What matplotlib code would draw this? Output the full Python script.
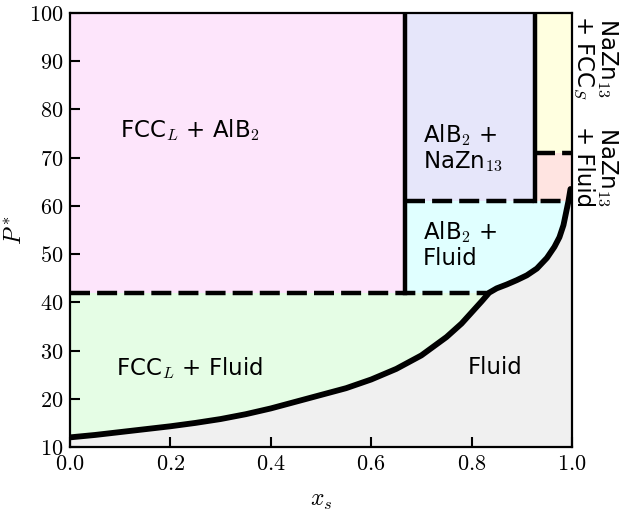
import numpy as np
import matplotlib
matplotlib.use("Agg")
import matplotlib.pyplot as plt
from matplotlib.ticker import FuncFormatter

plt.rcParams['mathtext.fontset'] = 'cm'
plt.rcParams['font.family'] = ['DejaVu Sans']

# coexistence curve (fluid boundary)
xs_curve = [0.0, 0.05, 0.1, 0.15, 0.2, 0.25, 0.3, 0.35, 0.4, 0.45, 0.5, 0.55,
            0.6, 0.65, 0.7, 0.75, 0.78, 0.8, 0.82, 0.835, 0.85, 0.87, 0.89,
            0.91, 0.93, 0.95, 0.965, 0.975, 0.983, 0.988, 0.993, 0.997]
p_curve = [12.0, 12.5, 13.1, 13.7, 14.3, 15.0, 15.8, 16.8, 18.0, 19.4, 20.8, 22.2,
           24.0, 26.2, 29.0, 32.8, 35.6, 37.9, 40.2, 42.0, 42.9, 43.7, 44.6,
           45.6, 47.0, 49.2, 51.5, 53.5, 56.0, 58.5, 61.0, 63.5]

# phase boundaries
p_fcc_alb2 = 42.0
p_alb2_nazn = 61.0
p_nazn_fcc = 71.0
x_alb2 = 0.667
x_nazn = 0.927

xs_curve = np.array(xs_curve)
p_curve = np.array(p_curve)

fig = plt.figure(figsize=(6.22, 5.15), dpi=100)
ax = fig.add_axes([0.1125, 0.132, 0.8071, 0.8428])
ax.set_facecolor('#f0f0f0')

x_meet = np.interp(p_fcc_alb2, p_curve, xs_curve)

# coloured regions
ax.fill_between([0, x_meet], 10, p_fcc_alb2, color='#e5fde5', lw=0)
ax.fill_between([0, x_alb2], p_fcc_alb2, 100, color='#fde5fb', lw=0)
ax.fill_between([x_alb2, x_nazn], p_alb2_nazn, 100, color='#e6e6fa', lw=0)
ax.fill_between([x_alb2, 1], p_fcc_alb2, p_alb2_nazn, color='#e0ffff', lw=0)
ax.fill_between([x_nazn, 1], p_alb2_nazn, p_nazn_fcc, color='#ffe4e1', lw=0)
ax.fill_between([x_nazn, 1], p_nazn_fcc, 100, color='#ffffe0', lw=0)
ax.fill_between(xs_curve, 10, p_curve, color='#f0f0f0', lw=0)

# boundaries
lw = 3.2
dash = (4.5, 1.6)
ax.plot([0, x_meet], [p_fcc_alb2] * 2, color='k', lw=lw, dashes=dash)
ax.plot([x_alb2, np.interp(p_alb2_nazn, p_curve, xs_curve)], [p_alb2_nazn] * 2,
        color='k', lw=lw, dashes=dash)
ax.plot([x_nazn, 1], [p_nazn_fcc] * 2, color='k', lw=lw, dashes=dash)
ax.plot([x_alb2, x_alb2], [p_fcc_alb2, 100], color='k', lw=lw)
ax.plot([x_nazn, x_nazn], [p_alb2_nazn, 100], color='k', lw=lw)
ax.plot(xs_curve, p_curve, color='k', lw=4.2, solid_capstyle='round',
        solid_joinstyle='round')

# labels
fs = 16.5
ax.text(0.239, 75.8, r'FCC$_L$ + AlB$_2$', fontsize=fs, ha='center', va='center')
ax.text(0.703, 72, 'AlB$_2$ +\nNaZn$_{13}$', fontsize=fs, ha='left', va='center',
        linespacing=1.1)
ax.text(0.703, 52, 'AlB$_2$ +\nFluid', fontsize=fs, ha='left', va='center',
        linespacing=1.1)
ax.text(0.239, 26.4, r'FCC$_L$ + Fluid', fontsize=fs, ha='center', va='center')
ax.text(0.847, 26.4, 'Fluid', fontsize=fs, ha='center', va='center')
ax.text(1.047, 99.5, 'NaZn$_{13}$\n+ FCC$_S$', fontsize=fs, rotation=-90,
        ha='center', va='top', clip_on=False, linespacing=1.0)
ax.text(1.047, 76.5, 'NaZn$_{13}$\n+ Fluid', fontsize=fs, rotation=-90,
        ha='center', va='top', clip_on=False, linespacing=1.0)

ax.set_xlim(0, 1)
ax.set_ylim(10, 100)
ax.set_xticks([0, 0.2, 0.4, 0.6, 0.8, 1.0])
ax.set_yticks(range(10, 101, 10))
ax.xaxis.set_major_formatter(FuncFormatter(lambda v, p: f'${v:.1f}$'))
ax.yaxis.set_major_formatter(FuncFormatter(lambda v, p: f'${v:.0f}$'))
ax.tick_params(direction='in', length=7, width=1.5, labelsize=16, pad=5)
for s in ax.spines.values():
    s.set_linewidth(1.6)
ax.set_xlabel('$x_s$', fontsize=17, labelpad=10)
ax.set_ylabel('$P^*$', fontsize=17, labelpad=2)

fig.savefig('out.png', dpi=100)
